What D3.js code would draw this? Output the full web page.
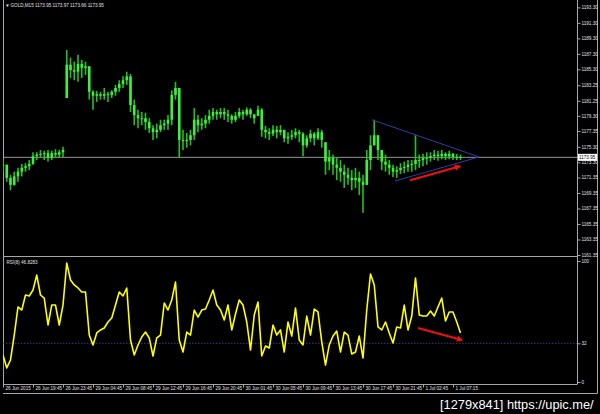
<!DOCTYPE html>
<html>
<head>
<meta charset="utf-8">
<script src="https://cdn.jsdelivr.net/npm/d3@7"></script>
<style>
  html, body { margin: 0; padding: 0; background: #000; }
  svg { display: block; }
  text { font-family: "Liberation Sans", Arial, sans-serif; }
</style>
</head>
<body>
<svg id="chart" width="600" height="414"></svg>
<script>
// ---------- DATA (GOLD, M15, one sample every 2 bars) ----------
const symbolTitle = "GOLD,M15  1173.95 1173.97 1173.66 1173.95";
const rsiTitle = "RSI(8) 46.8283";
const lastPrice = 1173.95;
const rsiLevel = 32;

const high = [
  1173.9,1173.0,1171.7,1172.1,1172.6,1173.1,1173.2,1173.6,1174.6,1174.6,1174.9,1174.8,1174.9,1174.8,1175.0,1174.9,1175.3,
  1187.8,1186.8,1186.3,1187.2,1186.5,1186.3,1185.7,1182.6,1182.5,1182.4,1182.9,1182.4,1182.6,1183.3,1183.9,1184.4,1185.0,
  1184.7,1181.4,1180.1,1179.8,1179.7,1179.0,1178.1,1178.3,1178.8,1178.8,1179.4,1182.6,1183.7,1182.9,1177.5,1177.1,1177.5,
  1180.3,1179.4,1179.0,1179.4,1180.1,1180.3,1180.1,1180.3,1180.3,1180.1,1179.5,1179.8,1180.3,1180.1,1180.4,1180.3,1179.5,1180.6,
  1180.3,1178.0,1177.7,1178.1,1178.0,1178.1,1177.5,1177.2,1177.5,1177.7,1177.5,1177.2,1176.8,1177.5,1177.2,1177.7,1177.5,
  1175.9,1174.9,1174.3,1173.9,1173.6,1173.0,1172.6,1172.3,1172.6,1172.1,1171.7,
  1174.9,1176.8,1178.8,1176.8,1174.9,1174.3,1173.6,1173.0,1172.8,1173.2,1173.4,1173.6,1173.6,
  1176.8,1174.3,1174.4,1174.6,1174.6,1174.9,1174.8,1174.9,1174.6,1174.8,1174.5,1174.4,1174.3
];
const low = [
  1172.1,1170.8,1169.7,1170.3,1170.8,1171.5,1172.1,1172.3,1173.0,1173.6,1173.9,1173.6,1173.4,1173.6,1173.9,1173.9,1173.9,
  1181.6,1184.2,1183.9,1183.7,1184.2,1184.6,1181.4,1180.1,1181.1,1181.4,1181.4,1181.1,1181.6,1181.9,1182.4,1182.9,1183.3,
  1179.8,1178.1,1177.7,1178.1,1177.5,1177.1,1176.2,1176.4,1177.2,1177.5,1177.5,1178.1,1181.4,1173.9,1174.9,1175.2,1175.5,
  1176.2,1177.2,1177.5,1177.7,1178.3,1178.8,1178.8,1179.0,1178.8,1178.5,1178.3,1178.5,1179.0,1178.8,1179.3,1179.0,1178.3,1179.3,
  1176.6,1176.4,1176.2,1176.7,1176.4,1176.8,1175.9,1175.7,1176.2,1176.4,1175.9,1174.1,1175.2,1175.9,1175.5,1176.2,1175.2,
  1171.7,1172.3,1171.7,1171.0,1170.8,1170.0,1170.4,1169.7,1170.0,1169.1,1166.8,
  1170.4,1172.3,1175.5,1173.6,1172.3,1172.1,1171.7,1171.4,1171.3,1171.8,1171.9,1172.1,1172.1,
  1172.3,1172.6,1172.8,1173.0,1173.4,1173.6,1173.5,1173.7,1173.6,1173.7,1173.6,1173.6,1173.6
];
const close = [
  1173.0,1171.3,1170.4,1171.5,1172.1,1172.6,1172.8,1173.1,1174.1,1174.3,1174.4,1174.5,1173.9,1174.5,1174.3,1174.6,1174.9,
  1185.9,1185.2,1185.0,1186.0,1185.5,1185.7,1182.4,1181.9,1182.1,1181.9,1182.1,1182.0,1182.4,1182.9,1183.4,1183.9,1184.4,
  1180.7,1179.4,1179.0,1179.0,1178.5,1177.7,1177.2,1177.5,1178.1,1178.3,1178.8,1182.0,1182.9,1176.2,1176.2,1176.2,1176.8,
  1178.8,1178.1,1178.3,1178.8,1179.3,1179.8,1179.5,1179.8,1179.5,1179.3,1178.8,1179.3,1179.8,1179.5,1180.1,1179.5,1179.0,1180.1,
  1177.5,1177.2,1177.0,1177.5,1177.2,1177.5,1176.4,1176.6,1176.8,1177.2,1177.0,1175.5,1176.4,1177.0,1176.4,1177.2,1176.2,
  1173.4,1173.9,1173.0,1172.6,1172.1,1171.7,1171.3,1171.0,1171.3,1170.8,1170.4,
  1173.6,1175.5,1176.8,1174.9,1173.4,1173.0,1172.6,1172.1,1172.3,1172.6,1172.7,1173.0,1173.1,
  1173.6,1173.6,1173.9,1173.9,1174.1,1174.3,1174.1,1174.4,1174.1,1174.4,1174.0,1174.0,1173.95
];
const rsi = [
  22.3,11.6,18.2,38.8,62.0,59.5,71.9,71.1,76.0,88.4,71.9,69.4,47.1,63.6,63.6,47.1,63.6,
  98.3,84.3,80.2,77.7,74.4,74.4,38.8,30.6,40.5,43.0,44.6,49.6,52.9,63.6,74.4,71.1,77.7,
  34.7,22.3,30.6,37.2,41.3,36.4,21.5,36.4,38.8,65.3,59.5,67.8,82.6,34.7,24.8,41.3,38.8,
  59.5,53.7,59.5,60.3,67.8,76.0,63.6,59.5,51.2,63.6,43.0,56.2,67.8,63.6,49.6,26.4,55.4,66.1,
  21.5,29.8,28.1,47.1,38.8,43.0,24.8,49.6,38.0,61.2,34.7,30.6,54.5,38.8,60.3,57.9,33.1,
  14.0,30.6,38.0,42.1,24.8,41.3,38.8,23.1,24.8,38.0,19.8,
  59.5,89.3,80.2,45.5,43.0,49.6,40.5,32.2,45.5,44.6,63.6,43.0,54.5,
  86.0,55.4,54.5,54.5,58.7,54.5,62.0,69.4,50.4,57.9,57.9,49.6,40.5
];
const barsPerSample = 2;

const priceTicks = [1193.30,1191.30,1189.30,1187.30,1185.30,1183.25,1181.25,1179.30,1177.35,
  1175.30,1173.30,1171.35,1169.35,1167.35,1165.35,1163.35,1161.35];
const rsiTicks = [100, 32, 0];
const timeTickBars = [0,16,32,48,64,80,96,112,128,144,160,176,192,208,224,240];
const timeLabels = ["26 Jun 2015","26 Jun 19:45","26 Jun 23:45","29 Jun 04:45","29 Jun 08:45",
  "29 Jun 12:45","29 Jun 16:45","29 Jun 20:45","30 Jun 01:45","30 Jun 05:45","30 Jun 09:45",
  "30 Jun 13:45","30 Jun 17:45","30 Jun 21:45","1 Jul 02:45","1 Jul 07:15"];

// annotations: [bar, value]
const triTop = [196.8, 1178.8], triBottom = [209.1, 1170.9], triApex = [253.9, 1174.0];
const priceArrow = [[217.1, 1171.0], [243.7, 1172.8]];
const rsiArrow = [[221.3, 44.6], [244.8, 34.7]];
const watermark = "[1279x841] https://upic.me/";

// ---------- CHART ----------
const svg = d3.select("#chart");
svg.append("rect").attr("width", 600).attr("height", 414).attr("fill", "#000");

const L = 3, R = 577, mainTop = 0, mainBot = 256, rsiTop = 258, rsiBot = 384;
const x = d3.scaleLinear().domain([0, 244]).range([3, 460.5]);
const yP = d3.scaleLinear().domain([1161.22, 1194.25]).range([mainBot, mainTop]);
const yR = d3.scaleLinear().domain([0, 100]).range([382, 261]);

const frame = "#a6a6a6";
const defs = svg.append("defs");
defs.append("clipPath").attr("id", "clipMain").append("rect")
  .attr("x", L).attr("y", mainTop).attr("width", R - L).attr("height", mainBot - mainTop);
defs.append("clipPath").attr("id", "clipRsi").append("rect")
  .attr("x", L).attr("y", rsiTop).attr("width", R - L).attr("height", rsiBot - rsiTop);
defs.append("marker").attr("id", "arrowRed").attr("viewBox", "0 0 10 10")
  .attr("refX", 8).attr("refY", 5).attr("markerWidth", 3.2).attr("markerHeight", 3.2)
  .attr("orient", "auto").append("path").attr("d", "M0,0 L10,5 L0,10 z").attr("fill", "#f01010");

// frame lines
const lines = [
  [L + 0.5, 0, L + 0.5, rsiBot + 0.5],
  [R + 0.5, 0, R + 0.5, rsiBot + 0.5],
  [597.5, 0, 597.5, 393.5],
  [L, mainBot + 0.5, R, mainBot + 0.5],
  [L, rsiBot + 0.5, R, rsiBot + 0.5],
  [L, 393.5, 597.5, 393.5]
];
svg.append("g").selectAll("line").data(lines).join("line")
  .attr("x1", d => d[0]).attr("y1", d => d[1]).attr("x2", d => d[2]).attr("y2", d => d[3])
  .attr("stroke", frame).attr("stroke-width", 1);

// candles
const candles = high.map((h, i) => {
  const prev = i === 0 ? close[0] : close[i - 1];
  const open = Math.max(low[i], Math.min(high[i], prev));
  return { bar: i * barsPerSample, h, l: low[i], o: open, c: close[i] };
});
const gMain = svg.append("g").attr("clip-path", "url(#clipMain)");

// current price line
gMain.append("line").attr("x1", L).attr("x2", R)
  .attr("y1", yP(lastPrice)).attr("y2", yP(lastPrice))
  .attr("stroke", "#bdbdbd").attr("stroke-width", 0.8);

gMain.append("g").selectAll("line").data(candles).join("line")
  .attr("x1", d => x(d.bar)).attr("x2", d => x(d.bar))
  .attr("y1", d => yP(d.h)).attr("y2", d => yP(d.l))
  .attr("stroke", "#1fc41f").attr("stroke-width", 1.6);
gMain.append("g").selectAll("rect").data(candles).join("rect")
  .attr("x", d => x(d.bar) - 1.3).attr("width", 2.6)
  .attr("y", d => yP(Math.max(d.o, d.c)))
  .attr("height", d => Math.max(1, Math.abs(yP(d.o) - yP(d.c))))
  .attr("fill", "#3cf03c");

// triangle trend lines
const triColor = "#3838b0";
[[triTop, triApex], [triBottom, triApex]].forEach(([a, b]) => {
  gMain.append("line").attr("x1", x(a[0])).attr("y1", yP(a[1]))
    .attr("x2", x(b[0])).attr("y2", yP(b[1]))
    .attr("stroke", triColor).attr("stroke-width", 1);
});
// red arrow (price)
gMain.append("line")
  .attr("x1", x(priceArrow[0][0])).attr("y1", yP(priceArrow[0][1]))
  .attr("x2", x(priceArrow[1][0])).attr("y2", yP(priceArrow[1][1]))
  .attr("stroke", "#f01010").attr("stroke-width", 2).attr("marker-end", "url(#arrowRed)");

// price axis
const axP = svg.append("g").attr("transform", `translate(${R + 0.5},0)`)
  .call(d3.axisRight(yP).tickValues(priceTicks).tickSize(3).tickPadding(1)
    .tickFormat(d => d.toFixed(2)));
axP.select(".domain").remove();
axP.selectAll(".tick line").attr("stroke", frame);
axP.selectAll("text").attr("fill", "#e0e0e0").attr("font-size", 4.6)
  .attr("font-family", "Liberation Sans, Arial, sans-serif");

// current price box
svg.append("rect").attr("x", R + 1).attr("y", yP(lastPrice) - 3.5)
  .attr("width", 19).attr("height", 7).attr("fill", "#ffffff");
svg.append("text").attr("x", R + 2).attr("y", yP(lastPrice)).attr("dy", "0.35em")
  .attr("font-size", 4.6).attr("fill", "#000").text(lastPrice.toFixed(2));

// RSI pane
const gR = svg.append("g").attr("clip-path", "url(#clipRsi)");
gR.append("line").attr("x1", L).attr("x2", R)
  .attr("y1", yR(rsiLevel)).attr("y2", yR(rsiLevel))
  .attr("stroke", "#4646b4").attr("stroke-width", 0.8).attr("stroke-dasharray", "1.5,1.5");
gR.append("path").datum(rsi)
  .attr("d", d3.line().x((d, i) => x(i * barsPerSample)).y(d => yR(d)))
  .attr("fill", "none").attr("stroke", "#ffff00").attr("stroke-width", 1.6)
  .attr("stroke-linejoin", "round");
gR.append("line")
  .attr("x1", x(rsiArrow[0][0])).attr("y1", yR(rsiArrow[0][1]))
  .attr("x2", x(rsiArrow[1][0])).attr("y2", yR(rsiArrow[1][1]))
  .attr("stroke", "#f01010").attr("stroke-width", 2).attr("marker-end", "url(#arrowRed)");

const axR = svg.append("g").attr("transform", `translate(${R + 0.5},0)`)
  .call(d3.axisRight(yR).tickValues(rsiTicks).tickSize(3).tickPadding(1));
axR.select(".domain").remove();
axR.selectAll(".tick line").attr("stroke", frame);
axR.selectAll("text").attr("fill", "#e0e0e0").attr("font-size", 4.6)
  .attr("font-family", "Liberation Sans, Arial, sans-serif");

// time axis
const axT = svg.append("g").attr("transform", `translate(0,${rsiBot + 0.5})`)
  .call(d3.axisBottom(x).tickValues(timeTickBars).tickSize(3).tickPadding(0)
    .tickFormat((d, i) => timeLabels[i]));
axT.select(".domain").remove();
axT.selectAll(".tick line").attr("stroke", frame);
axT.selectAll("text").attr("fill", "#e0e0e0").attr("font-size", 4.6)
  .attr("text-anchor", "start").attr("x", 2).attr("y", 2).attr("dy", "0.71em")
  .attr("font-family", "Liberation Sans, Arial, sans-serif");

// titles
svg.append("path").attr("d", "M6,4.5 L9,4.5 L7.5,7 Z").attr("fill", "#e8e8e8");
svg.append("text").attr("x", 10.5).attr("y", 7.3).attr("font-size", 4.6)
  .attr("fill", "#e0e0e0").text(symbolTitle);
svg.append("text").attr("x", 6.5).attr("y", 263.5).attr("font-size", 4.6)
  .attr("fill", "#e0e0e0").text(rsiTitle);

// watermark
svg.append("text").attr("x", 440).attr("y", 409).attr("font-size", 12.8)
  .attr("fill", "#ffffff")
  .attr("font-family", "Liberation Sans, Arial, sans-serif")
  .text(watermark);
</script>
</body>
</html>
